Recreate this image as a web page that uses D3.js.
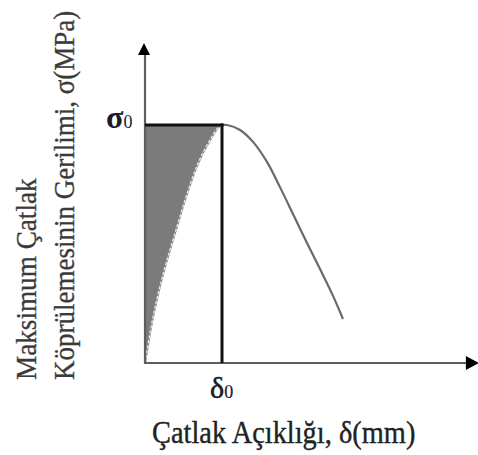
<!DOCTYPE html>
<html>
<head>
<meta charset="utf-8">
<script src="https://cdn.jsdelivr.net/npm/d3@7"></script>
<style>
  html, body { margin: 0; padding: 0; background: #fff; }
  svg { display: block; }
  text { font-family: "Liberation Serif", "Times New Roman", serif; }
</style>
</head>
<body>
<svg id="chart" width="478" height="455"></svg>
<script>
// Normalised crack opening (δ/δ0) and bridging stress (σ/σ0)
const risingDelta = [0, 0.013, 0.065, 0.152, 0.26, 0.39, 0.52, 0.67, 0.844, 0.974, 1];
const risingSigma = [0, 0.025, 0.126, 0.265, 0.403, 0.546, 0.685, 0.824, 0.937, 0.996, 1];
const fallingDelta = [1, 1.065, 1.234, 1.403, 1.584, 1.753, 1.922, 2.104, 2.273, 2.442, 2.571];
const fallingSigma = [1, 1, 0.979, 0.929, 0.845, 0.739, 0.626, 0.504, 0.395, 0.282, 0.185];
const peakDelta = 1;   // δ0
const peakSigma = 1;   // σ0
const xAxisMax = 4.31;
const yAxisMax = 1.345;
const xLabel = "Çatlak Açıklığı, δ(mm)";
const yLabelLines = ["Maksimum Çatlak", "Köprülemesinin Gerilimi, σ(MPa)"];

const svg = d3.select("#chart");
const origin = { x: 145, y: 363 };

const x = d3.scaleLinear().domain([0, 1]).range([origin.x, 222]);
const y = d3.scaleLinear().domain([0, 1]).range([origin.y, 125]);

const rising = risingDelta.map((d, i) => ({ d, s: risingSigma[i] }));
const falling = fallingDelta.map((d, i) => ({ d, s: fallingSigma[i] }));

// Shaded region between σ0 and the rising branch
const area = d3.area()
  .x(p => x(p.d))
  .y0(y(peakSigma))
  .y1(p => y(p.s))
  .curve(d3.curveMonotoneX);
svg.append("path")
  .datum(rising)
  .attr("d", area)
  .attr("fill", "#7b7b7b");

const line = d3.line()
  .x(p => x(p.d))
  .y(p => y(p.s))
  .curve(d3.curveMonotoneX);

// Rising branch (dashed edge of the shaded region)
svg.append("path")
  .datum(rising)
  .attr("d", line)
  .attr("fill", "none")
  .attr("stroke", "#8a8a8a")
  .attr("stroke-width", 2);
svg.append("path")
  .datum(rising)
  .attr("d", line)
  .attr("fill", "none")
  .attr("stroke", "#f0f0f0")
  .attr("stroke-width", 1.2)
  .attr("stroke-dasharray", "3,2");

// Softening branch
const smooth = d3.line()
  .x(p => x(p.d))
  .y(p => y(p.s))
  .curve(d3.curveCatmullRom.alpha(0.5));
svg.append("path")
  .datum(falling)
  .attr("d", smooth)
  .attr("fill", "none")
  .attr("stroke", "#6a6a6a")
  .attr("stroke-width", 2.2);

// Axes
const xEnd = x(xAxisMax);
const yEnd = y(yAxisMax);
svg.append("line")
  .attr("x1", origin.x).attr("y1", origin.y)
  .attr("x2", xEnd - 10).attr("y2", origin.y)
  .attr("stroke", "#5e5e5e").attr("stroke-width", 2.2);
svg.append("line")
  .attr("x1", origin.x).attr("y1", origin.y + 1)
  .attr("x2", origin.x).attr("y2", yEnd + 10)
  .attr("stroke", "#5e5e5e").attr("stroke-width", 2.2);

// Arrowheads
svg.append("path")
  .attr("d", `M${xEnd + 2},${origin.y} L${xEnd - 11},${origin.y - 7} L${xEnd - 11},${origin.y + 7} Z`)
  .attr("fill", "#000");
svg.append("path")
  .attr("d", `M${origin.x - 1},${yEnd} L${origin.x - 7},${yEnd + 12} L${origin.x + 5},${yEnd + 12} Z`)
  .attr("fill", "#000");

// σ0 and δ0 reference lines
svg.append("line")
  .attr("x1", origin.x).attr("y1", y(peakSigma))
  .attr("x2", x(peakDelta) + 1.5).attr("y2", y(peakSigma))
  .attr("stroke", "#111").attr("stroke-width", 3);
svg.append("line")
  .attr("x1", x(peakDelta)).attr("y1", y(peakSigma) - 1.5)
  .attr("x2", x(peakDelta)).attr("y2", origin.y)
  .attr("stroke", "#111").attr("stroke-width", 3);

// σ0 label
const sLab = svg.append("text")
  .attr("x", 106).attr("y", y(peakSigma) + 3)
  .attr("font-size", 32)
  .attr("font-weight", "bold")
  .attr("fill", "#1a1a2a");
sLab.append("tspan").text("σ");
sLab.append("tspan").attr("font-size", 18).attr("font-weight", "normal").text("0");

// δ0 label
const dLab = svg.append("text")
  .attr("x", 210).attr("y", 398)
  .attr("font-size", 30)
  .attr("fill", "#1a1a2a")
  .attr("stroke", "#1a1a2a").attr("stroke-width", 0.5);
dLab.append("tspan").text("δ");
dLab.append("tspan").attr("font-size", 18).attr("stroke-width", 0.2).text("0");

// Axis titles (slightly tall, narrow serif lettering)
svg.append("text")
  .attr("transform", "translate(152,443) scale(1,1.1)")
  .attr("font-size", 28.4)
  .attr("fill", "#222")
  .attr("stroke", "#222").attr("stroke-width", 0.35)
  .text(xLabel);

const yLab = svg.append("g");
const ySizes = [27.2, 27];
const yBase = [36, 74];
yLabelLines.forEach((t, i) => {
  yLab.append("text")
    .attr("transform", `translate(${yBase[i]},380) rotate(-90) scale(1,1.1)`)
    .attr("font-size", ySizes[i])
    .attr("fill", "#3a3a3a")
    .attr("stroke", "#3a3a3a").attr("stroke-width", 0.3)
    .text(t);
});
</script>
</body>
</html>
